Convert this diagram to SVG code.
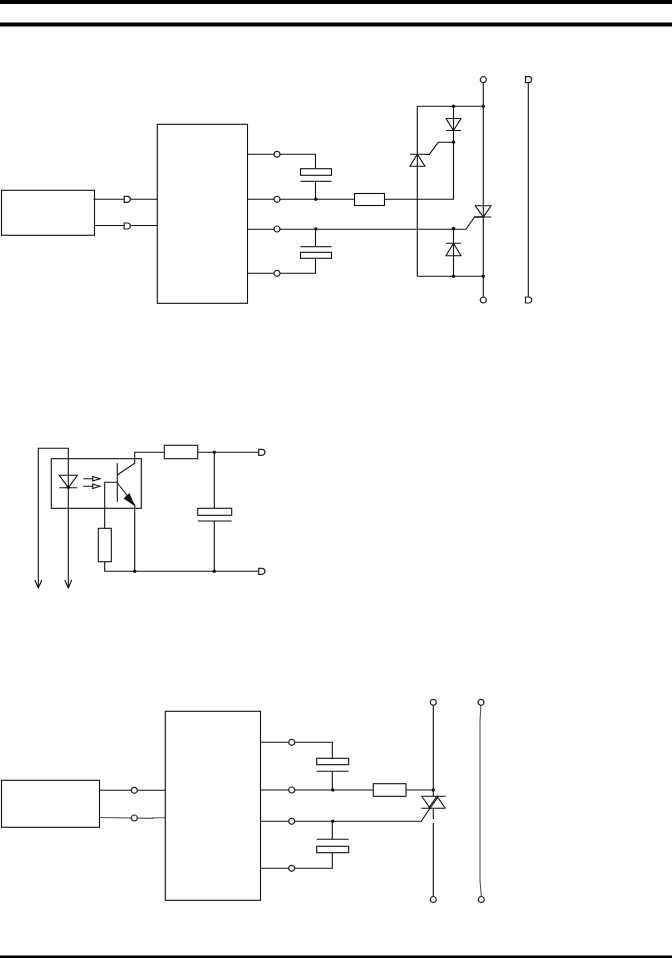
<svg xmlns="http://www.w3.org/2000/svg" width="672" height="958" viewBox="0 0 672 958">
<style>
.l{fill:none;stroke:#111;stroke-width:1.1}
.g{fill:none;stroke:#555;stroke-width:1.1}
.b{fill:#fff;stroke:#111;stroke-width:1.1}
.t{fill:#fff;stroke:#222;stroke-width:1.2}
.d{fill:#111;stroke:none}
.bar{fill:#000;stroke:none}
</style>
<defs>
<g id="dot"><circle r="1.7" class="d"/></g>
<g id="tm"><circle r="3" class="t"/></g>
<g id="tmd"><path d="M-2.8-3H0.4A3 3 0 0 1 0.4 3H-2.8Z" class="t"/></g>
</defs>
<g id="rules">
<rect class="bar" x="0" y="0" width="672" height="4"/>
<rect class="bar" x="0" y="22.500" width="672" height="4"/>
<rect class="bar" x="0" y="955.500" width="672" height="2.500"/>
</g>
<g id="connectors">
<path class="l" d="M93.500 199.300H157.300M94.500 225.500H157.300"/>
<path class="l" d="M247.500 154.300H315.500V168.700M315.500 181.300V199.300M247.500 199.300H354.500M384.500 199.300H453.500V106.300M247.500 229.300H466L474.500 217H483.300M315.500 229.300V246.700M315.500 258.300V273.300H247.500"/>
<path class="l" d="M483.300 79.700V300M528.300 79.700V300M417.300 106.300H483.300M417.300 276.300H483.300M417.300 106.300V276.300M453.500 228V276.300M425 154.400H429.300L438.300 142.300H453.500"/>
<path class="l" d="M38.300 588V448.300H68.300V588M34.800 580L38.300 588L41.800 580M64.800 580L68.300 588L71.800 580"/>
<path class="l" d="M117.300 475L134.700 463.300V452.300H164.300M197.700 452.300H260.700M214.300 452.300V508.300M214.300 521V571.300M104.700 528.300V482.300H117.300M104.700 561.700V571.300H260.700M117.300 483L134.700 505V571.300"/>
<path class="l" d="M99.500 790.300H165.300"/>
<path class="g" d="M99.500 817.500L153 818.400V817.700H165.300"/>
<path class="l" d="M260.500 742.300H332.300V758.300M332.300 771.300V790M260.500 790H373.300M406 790H433.300M260.500 821.300H421.300L430 808M332.300 821.300V839.300M332.300 852.700V868.300H260.500M433.300 702.300V796.300M433.300 808V819M433.300 823V899.300"/>
<path class="g" d="M481 703L480 722V880L481.500 899"/>
</g>
<g id="opto-parts">
<path class="l" d="M117.300 463.300V501.700"/>
<path class="d" d="M134.700 506L123.500 498.500L129.500 493Z"/>
<path class="l" d="M59.300 475.300H77.300L68.300 487.700ZM59.300 487.700H77.300"/>
<path class="l" d="M83.300 478.700H92.700M83.300 486.300H92.700M92.700 476.500L100 478.700L92.700 481ZM92.700 484L100 486.300L92.700 488.500Z"/>
</g>
<g id="drive-a-source"><rect class="l" x="1.500" y="190.300" width="93" height="45"/></g>
<g id="drive-a-block"><rect class="l" x="157.300" y="124.300" width="90.200" height="179"/></g>
<g id="cap-a1"><rect class="b" x="300.500" y="168.700" width="31" height="6.600"/><path class="l" d="M300.500 181.300H331.500"/></g>
<g id="cap-a2"><rect class="b" x="300.500" y="252.300" width="31" height="6"/><path class="l" d="M300.500 246.700H331.500"/></g>
<g id="res-a"><rect class="b" x="354.500" y="193.500" width="30" height="12"/></g>
<g id="scr-a1"><path class="l" d="M446 118.500H461L453.500 130.500ZM446 130.500H461"/></g>
<g id="scr-a2"><path class="l" d="M410 166.300H425L417.300 154.300ZM410 154.300H425"/></g>
<g id="scr-a3"><path class="l" d="M475.300 205.700H491L483.300 217ZM474 217H491"/></g>
<g id="scr-a4"><path class="l" d="M446 255.700H461L453.500 243.300ZM446 243.300H461"/></g>
<g id="opto-box"><rect class="l" x="51.300" y="458.700" width="90" height="49.600"/></g>
<g id="res-b1"><rect class="b" x="164.300" y="445.300" width="33.400" height="13.400"/></g>
<g id="res-b2"><rect class="b" x="98.300" y="528.300" width="13" height="33.400"/></g>
<g id="cap-b"><rect class="b" x="197.700" y="508.300" width="34" height="7"/><path class="l" d="M197.700 521H231.700"/></g>
<g id="drive-c-source"><rect class="l" x="1.500" y="780.300" width="98" height="47"/></g>
<g id="drive-c-block"><rect class="l" x="165.300" y="711.300" width="95.200" height="189"/></g>
<g id="cap-c1"><rect class="b" x="316.700" y="758.300" width="32" height="6.400"/><path class="l" d="M316.700 771.300H348.700"/></g>
<g id="cap-c2"><rect class="b" x="316.700" y="846.300" width="32" height="6.400"/><path class="l" d="M316.700 839.300H348.700"/></g>
<g id="res-c"><rect class="b" x="373.300" y="783.700" width="32.700" height="12.600"/></g>
<g id="triac"><path class="l" d="M421.300 796.300H445.700M421.300 808.200H445.700M421.800 796.300L430 808.200L438.500 796.300M428.500 808.200L437 796.300L445.300 808.200"/></g>
<g id="dots">
<use href="#dot" x="315.800" y="199.300"/><use href="#dot" x="315.800" y="229"/>
<use href="#dot" x="453.500" y="106.300"/><use href="#dot" x="483.300" y="106.300"/><use href="#dot" x="453.500" y="276.300"/><use href="#dot" x="483.300" y="276.300"/><use href="#dot" x="453.500" y="142.300"/><use href="#dot" x="453.500" y="228.500"/>
<use href="#dot" x="214.300" y="452.300"/><use href="#dot" x="134.700" y="571.300"/><use href="#dot" x="214.300" y="571.300"/><use href="#dot" x="68.300" y="487.300"/>
<use href="#dot" x="332.800" y="790"/><use href="#dot" x="332.800" y="821.300"/><use href="#dot" x="433.300" y="790"/>
</g>
<g id="terminals">
<use href="#tmd" x="127" y="199.300"/><use href="#tmd" x="127" y="226"/>
<use href="#tm" x="277" y="154.300"/><use href="#tm" x="277" y="199.300"/><use href="#tm" x="277" y="229"/><use href="#tm" x="277" y="273.300"/>
<use href="#tm" x="483.300" y="79.700"/><use href="#tmd" x="528.300" y="79.700"/><use href="#tm" x="483.300" y="300"/><use href="#tmd" x="528.300" y="300"/>
<use href="#tmd" x="261.500" y="452.300"/><use href="#tmd" x="261.500" y="571.300"/>
<use href="#tm" x="134.300" y="790.300"/><use href="#tm" x="134.300" y="818"/>
<use href="#tm" x="291.700" y="742.300"/><use href="#tm" x="291.700" y="790"/><use href="#tm" x="291.700" y="821.300"/><use href="#tm" x="291.700" y="868.300"/>
<use href="#tm" x="433.300" y="702.300"/><use href="#tm" x="481" y="702.300"/><use href="#tm" x="433.300" y="899.500"/><use href="#tm" x="481.300" y="899.500"/>
</g>
</svg>
